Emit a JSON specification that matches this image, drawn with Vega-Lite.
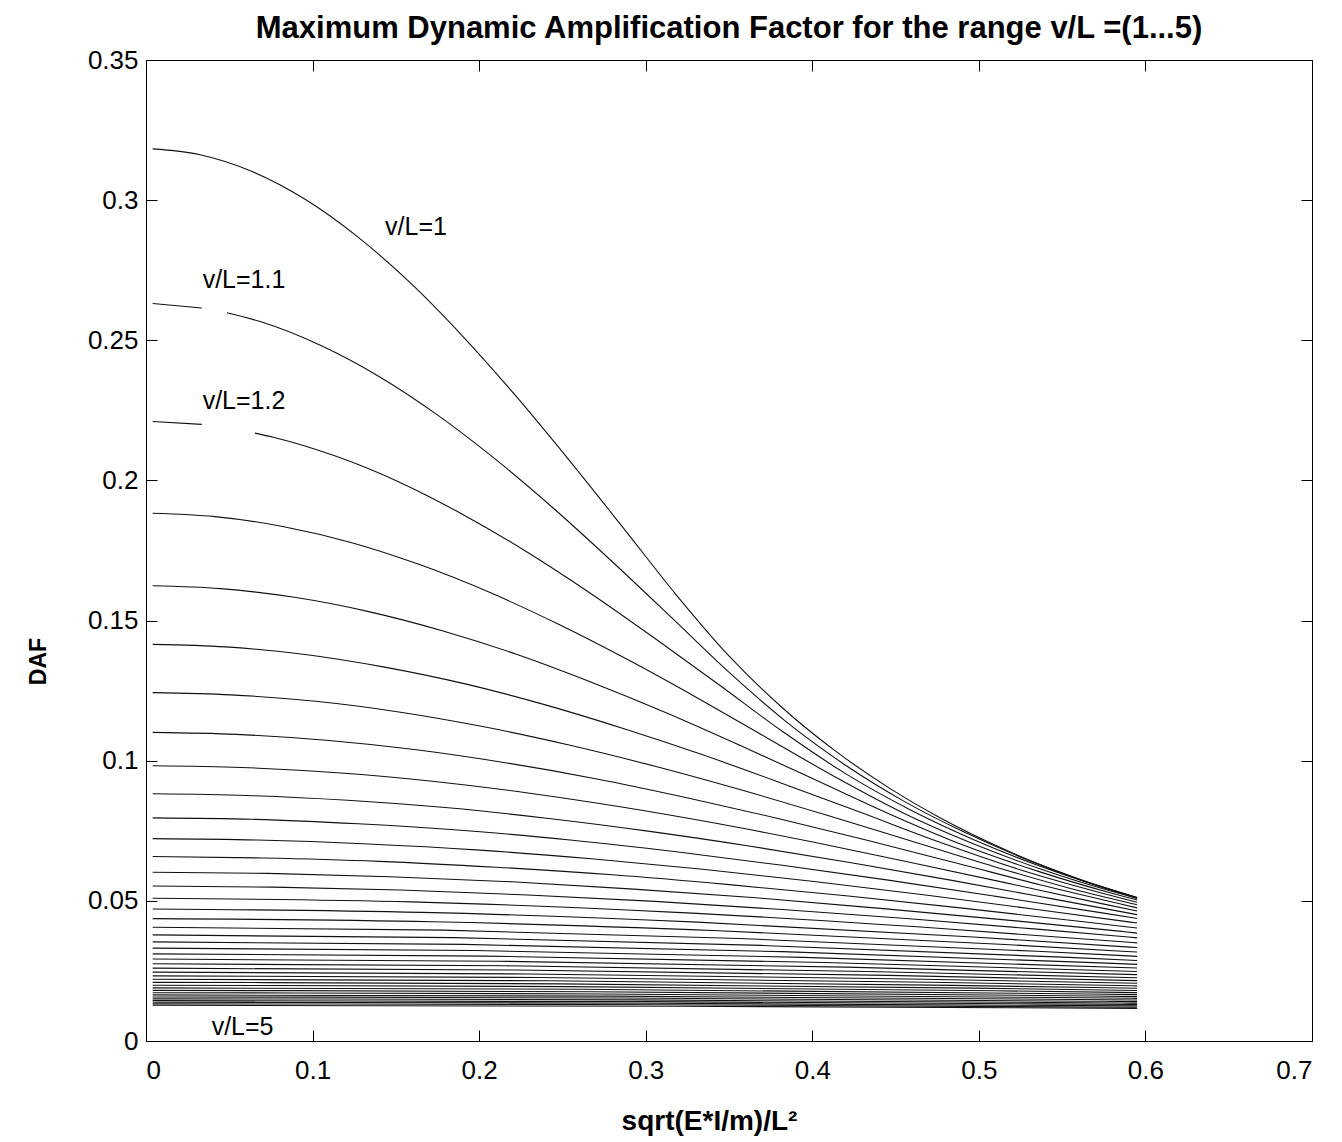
{
  "$schema": "https://vega.github.io/schema/vega-lite/v6.json",
  "width": 1166,
  "height": 981,
  "autosize": {"type": "none"},
  "padding": {"left": 146, "top": 60, "right": 30, "bottom": 101},
  "background": "white",
  "config": {
    "font": "Liberation Sans",
    "view": {"stroke": "#000", "strokeWidth": 1},
    "axis": {"grid": false, "domain": false, "tickColor": "#000", "tickSize": -11, "tickWidth": 1, "labelColor": "#000", "labelFontSize": 26, "titleColor": "#000", "titleFontWeight": "bold", "labelFont": "Liberation Sans", "titleFont": "Liberation Sans"}
  },
  "title": {"text": "Maximum Dynamic Amplification Factor for the range v/L =(1...5)", "fontSize": 31, "fontWeight": "bold", "font": "Liberation Sans", "color": "#000", "anchor": "middle", "offset": 2},
  "datasets": {
    "curves": [
      {"c":"1","x":0.004,"y":0.3183},{"c":"1","x":0.0318,"y":0.3163},{"c":"1","x":0.0637,"y":0.3102},{"c":"1","x":0.0955,"y":0.3003},{"c":"1","x":0.1273,"y":0.2868},{"c":"1","x":0.1592,"y":0.2702},{"c":"1","x":0.191,"y":0.2509},{"c":"1","x":0.2228,"y":0.2296},{"c":"1","x":0.2546,"y":0.2068},{"c":"1","x":0.2865,"y":0.1831},{"c":"1","x":0.3183,"y":0.1592},{"c":"1","x":0.3501,"y":0.1373},{"c":"1","x":0.382,"y":0.1189},{"c":"1","x":0.4138,"y":0.1035},{"c":"1","x":0.4456,"y":0.0905},{"c":"1","x":0.4775,"y":0.0794},{"c":"1","x":0.5093,"y":0.07},{"c":"1","x":0.5411,"y":0.0619},{"c":"1","x":0.573,"y":0.055},{"c":"1","x":0.595,"y":0.0508},
      {"c":"1.1a","x":0.004,"y":0.2631},{"c":"1.1a","x":0.0335,"y":0.2615},
      {"c":"1.1b","x":0.0486,"y":0.2598},{"c":"1.1b","x":0.07,"y":0.2564},{"c":"1.1b","x":0.105,"y":0.2481},{"c":"1.1b","x":0.1401,"y":0.237},{"c":"1.1b","x":0.1751,"y":0.2233},{"c":"1.1b","x":0.2101,"y":0.2074},{"c":"1.1b","x":0.2451,"y":0.1898},{"c":"1.1b","x":0.2801,"y":0.1709},{"c":"1.1b","x":0.3151,"y":0.1513},{"c":"1.1b","x":0.3501,"y":0.1315},{"c":"1.1b","x":0.3852,"y":0.1135},{"c":"1.1b","x":0.4202,"y":0.0983},{"c":"1.1b","x":0.4552,"y":0.0855},{"c":"1.1b","x":0.4902,"y":0.0748},{"c":"1.1b","x":0.5252,"y":0.0656},{"c":"1.1b","x":0.5602,"y":0.0578},{"c":"1.1b","x":0.595,"y":0.0512},
      {"c":"1.2a","x":0.004,"y":0.221},{"c":"1.2a","x":0.0335,"y":0.22},
      {"c":"1.2b","x":0.0654,"y":0.2169},{"c":"1.2b","x":0.0764,"y":0.2154},{"c":"1.2b","x":0.1146,"y":0.2085},{"c":"1.2b","x":0.1528,"y":0.1992},{"c":"1.2b","x":0.191,"y":0.1876},{"c":"1.2b","x":0.2292,"y":0.1743},{"c":"1.2b","x":0.2674,"y":0.1595},{"c":"1.2b","x":0.3056,"y":0.1436},{"c":"1.2b","x":0.3438,"y":0.1272},{"c":"1.2b","x":0.382,"y":0.1105},{"c":"1.2b","x":0.4202,"y":0.0953},{"c":"1.2b","x":0.4584,"y":0.0826},{"c":"1.2b","x":0.4966,"y":0.0719},{"c":"1.2b","x":0.5348,"y":0.0628},{"c":"1.2b","x":0.573,"y":0.0551},{"c":"1.2b","x":0.595,"y":0.0512},
      {"c":"1.3","x":0.004,"y":0.1883},{"c":"1.3","x":0.0414,"y":0.1871},{"c":"1.3","x":0.0828,"y":0.1835},{"c":"1.3","x":0.1241,"y":0.1777},{"c":"1.3","x":0.1655,"y":0.1697},{"c":"1.3","x":0.2069,"y":0.1599},{"c":"1.3","x":0.2483,"y":0.1485},{"c":"1.3","x":0.2897,"y":0.1359},{"c":"1.3","x":0.331,"y":0.1224},{"c":"1.3","x":0.3724,"y":0.1083},{"c":"1.3","x":0.4138,"y":0.0942},{"c":"1.3","x":0.4552,"y":0.0812},{"c":"1.3","x":0.4966,"y":0.0704},{"c":"1.3","x":0.5379,"y":0.0612},{"c":"1.3","x":0.5793,"y":0.0535},{"c":"1.3","x":0.595,"y":0.0509},
      {"c":"1.4","x":0.004,"y":0.1624},{"c":"1.4","x":0.0446,"y":0.1614},{"c":"1.4","x":0.0891,"y":0.1583},{"c":"1.4","x":0.1337,"y":0.1532},{"c":"1.4","x":0.1783,"y":0.1463},{"c":"1.4","x":0.2228,"y":0.1379},{"c":"1.4","x":0.2674,"y":0.128},{"c":"1.4","x":0.3119,"y":0.1172},{"c":"1.4","x":0.3565,"y":0.1055},{"c":"1.4","x":0.4011,"y":0.0934},{"c":"1.4","x":0.4456,"y":0.0812},{"c":"1.4","x":0.4902,"y":0.07},{"c":"1.4","x":0.5348,"y":0.0607},{"c":"1.4","x":0.5793,"y":0.0528},{"c":"1.4","x":0.595,"y":0.0503},
      {"c":"1.5","x":0.004,"y":0.1415},{"c":"1.5","x":0.0477,"y":0.1406},{"c":"1.5","x":0.0955,"y":0.1379},{"c":"1.5","x":0.1432,"y":0.1334},{"c":"1.5","x":0.191,"y":0.1275},{"c":"1.5","x":0.2387,"y":0.1201},{"c":"1.5","x":0.2865,"y":0.1115},{"c":"1.5","x":0.3342,"y":0.1021},{"c":"1.5","x":0.382,"y":0.0919},{"c":"1.5","x":0.4297,"y":0.0814},{"c":"1.5","x":0.4775,"y":0.0707},{"c":"1.5","x":0.5252,"y":0.061},{"c":"1.5","x":0.573,"y":0.0529},{"c":"1.5","x":0.595,"y":0.0495},
      {"c":"1.6","x":0.004,"y":0.1243},{"c":"1.6","x":0.0509,"y":0.1235},{"c":"1.6","x":0.1019,"y":0.1212},{"c":"1.6","x":0.1528,"y":0.1173},{"c":"1.6","x":0.2037,"y":0.112},{"c":"1.6","x":0.2546,"y":0.1055},{"c":"1.6","x":0.3056,"y":0.098},{"c":"1.6","x":0.3565,"y":0.0897},{"c":"1.6","x":0.4074,"y":0.0808},{"c":"1.6","x":0.4584,"y":0.0715},{"c":"1.6","x":0.5093,"y":0.0622},{"c":"1.6","x":0.5602,"y":0.0536},{"c":"1.6","x":0.595,"y":0.0486},
      {"c":"1.7","x":0.004,"y":0.1101},{"c":"1.7","x":0.0541,"y":0.1094},{"c":"1.7","x":0.1082,"y":0.1073},{"c":"1.7","x":0.1623,"y":0.1039},{"c":"1.7","x":0.2165,"y":0.0992},{"c":"1.7","x":0.2706,"y":0.0935},{"c":"1.7","x":0.3247,"y":0.0868},{"c":"1.7","x":0.3788,"y":0.0795},{"c":"1.7","x":0.4329,"y":0.0716},{"c":"1.7","x":0.487,"y":0.0634},{"c":"1.7","x":0.5411,"y":0.0551},{"c":"1.7","x":0.595,"y":0.0475},
      {"c":"1.8","x":0.004,"y":0.0982},{"c":"1.8","x":0.0573,"y":0.0976},{"c":"1.8","x":0.1146,"y":0.0957},{"c":"1.8","x":0.1719,"y":0.0927},{"c":"1.8","x":0.2292,"y":0.0885},{"c":"1.8","x":0.2865,"y":0.0834},{"c":"1.8","x":0.3438,"y":0.0775},{"c":"1.8","x":0.4011,"y":0.0709},{"c":"1.8","x":0.4584,"y":0.0638},{"c":"1.8","x":0.5157,"y":0.0565},{"c":"1.8","x":0.573,"y":0.0491},{"c":"1.8","x":0.595,"y":0.0464},
      {"c":"1.9","x":0.004,"y":0.0882},{"c":"1.9","x":0.0605,"y":0.0876},{"c":"1.9","x":0.121,"y":0.0859},{"c":"1.9","x":0.1814,"y":0.0832},{"c":"1.9","x":0.2419,"y":0.0794},{"c":"1.9","x":0.3024,"y":0.0748},{"c":"1.9","x":0.3629,"y":0.0695},{"c":"1.9","x":0.4234,"y":0.0636},{"c":"1.9","x":0.4838,"y":0.0573},{"c":"1.9","x":0.5443,"y":0.0507},{"c":"1.9","x":0.595,"y":0.0451},
      {"c":"2","x":0.004,"y":0.0796},{"c":"2","x":0.0637,"y":0.0791},{"c":"2","x":0.1273,"y":0.0775},{"c":"2","x":0.191,"y":0.0751},{"c":"2","x":0.2546,"y":0.0717},{"c":"2","x":0.3183,"y":0.0675},{"c":"2","x":0.382,"y":0.0627},{"c":"2","x":0.4456,"y":0.0574},{"c":"2","x":0.5093,"y":0.0517},{"c":"2","x":0.573,"y":0.0458},{"c":"2","x":0.595,"y":0.0437},
      {"c":"2.1","x":0.004,"y":0.0722},{"c":"2.1","x":0.0668,"y":0.0717},{"c":"2.1","x":0.1337,"y":0.0703},{"c":"2.1","x":0.2005,"y":0.0681},{"c":"2.1","x":0.2674,"y":0.065},{"c":"2.1","x":0.3342,"y":0.0613},{"c":"2.1","x":0.4011,"y":0.0569},{"c":"2.1","x":0.4679,"y":0.0521},{"c":"2.1","x":0.5348,"y":0.0469},{"c":"2.1","x":0.595,"y":0.0421},
      {"c":"2.2","x":0.004,"y":0.0658},{"c":"2.2","x":0.07,"y":0.0653},{"c":"2.2","x":0.1401,"y":0.0641},{"c":"2.2","x":0.2101,"y":0.062},{"c":"2.2","x":0.2801,"y":0.0593},{"c":"2.2","x":0.3501,"y":0.0558},{"c":"2.2","x":0.4202,"y":0.0518},{"c":"2.2","x":0.4902,"y":0.0474},{"c":"2.2","x":0.5602,"y":0.0427},{"c":"2.2","x":0.595,"y":0.0403},
      {"c":"2.3","x":0.004,"y":0.0602},{"c":"2.3","x":0.0732,"y":0.0598},{"c":"2.3","x":0.1464,"y":0.0586},{"c":"2.3","x":0.2196,"y":0.0568},{"c":"2.3","x":0.2928,"y":0.0542},{"c":"2.3","x":0.3661,"y":0.0511},{"c":"2.3","x":0.4393,"y":0.0474},{"c":"2.3","x":0.5125,"y":0.0434},{"c":"2.3","x":0.5857,"y":0.0391},{"c":"2.3","x":0.595,"y":0.0385},
      {"c":"2.4","x":0.004,"y":0.0553},{"c":"2.4","x":0.0764,"y":0.0549},{"c":"2.4","x":0.1528,"y":0.0539},{"c":"2.4","x":0.2292,"y":0.0521},{"c":"2.4","x":0.3056,"y":0.0498},{"c":"2.4","x":0.382,"y":0.0469},{"c":"2.4","x":0.4584,"y":0.0436},{"c":"2.4","x":0.5348,"y":0.0399},{"c":"2.4","x":0.595,"y":0.0368},
      {"c":"2.5","x":0.004,"y":0.05093},{"c":"2.5","x":0.1592,"y":0.04963},{"c":"2.5","x":0.3183,"y":0.04589},{"c":"2.5","x":0.4775,"y":0.04015},{"c":"2.5","x":0.595,"y":0.03502},
      {"c":"2.6","x":0.004,"y":0.04709},{"c":"2.6","x":0.1655,"y":0.04589},{"c":"2.6","x":0.331,"y":0.04242},{"c":"2.6","x":0.4966,"y":0.03712},{"c":"2.6","x":0.595,"y":0.03334},
      {"c":"2.7","x":0.004,"y":0.04366},{"c":"2.7","x":0.1719,"y":0.04255},{"c":"2.7","x":0.3438,"y":0.03934},{"c":"2.7","x":0.5157,"y":0.03442},{"c":"2.7","x":0.595,"y":0.03173},
      {"c":"2.8","x":0.004,"y":0.0406},{"c":"2.8","x":0.1783,"y":0.03956},{"c":"2.8","x":0.3565,"y":0.03658},{"c":"2.8","x":0.5348,"y":0.03201},{"c":"2.8","x":0.595,"y":0.03019},
      {"c":"2.9","x":0.004,"y":0.03785},{"c":"2.9","x":0.1846,"y":0.03688},{"c":"2.9","x":0.3692,"y":0.0341},{"c":"2.9","x":0.5538,"y":0.02984},{"c":"2.9","x":0.595,"y":0.02873},
      {"c":"3","x":0.004,"y":0.03537},{"c":"3","x":0.191,"y":0.03446},{"c":"3","x":0.382,"y":0.03187},{"c":"3","x":0.573,"y":0.02788},{"c":"3","x":0.595,"y":0.02735},
      {"c":"3.1","x":0.004,"y":0.03312},{"c":"3.1","x":0.1974,"y":0.03228},{"c":"3.1","x":0.3947,"y":0.02984},{"c":"3.1","x":0.595,"y":0.02605},
      {"c":"3.2","x":0.004,"y":0.03109},{"c":"3.2","x":0.2037,"y":0.03029},{"c":"3.2","x":0.4074,"y":0.02801},{"c":"3.2","x":0.595,"y":0.02482},
      {"c":"3.3","x":0.004,"y":0.02923},{"c":"3.3","x":0.2101,"y":0.02848},{"c":"3.3","x":0.4202,"y":0.02634},{"c":"3.3","x":0.595,"y":0.02367},
      {"c":"3.4","x":0.004,"y":0.02754},{"c":"3.4","x":0.2165,"y":0.02683},{"c":"3.4","x":0.4329,"y":0.02481},{"c":"3.4","x":0.595,"y":0.02257},
      {"c":"3.5","x":0.004,"y":0.02599},{"c":"3.5","x":0.2228,"y":0.02532},{"c":"3.5","x":0.4456,"y":0.02341},{"c":"3.5","x":0.595,"y":0.02155},
      {"c":"3.6","x":0.004,"y":0.02456},{"c":"3.6","x":0.2292,"y":0.02393},{"c":"3.6","x":0.4584,"y":0.02213},{"c":"3.6","x":0.595,"y":0.02058},
      {"c":"3.7","x":0.004,"y":0.02325},{"c":"3.7","x":0.2355,"y":0.02266},{"c":"3.7","x":0.4711,"y":0.02095},{"c":"3.7","x":0.595,"y":0.01967},
      {"c":"3.8","x":0.004,"y":0.02204},{"c":"3.8","x":0.2419,"y":0.02148},{"c":"3.8","x":0.4838,"y":0.01986},{"c":"3.8","x":0.595,"y":0.01881},
      {"c":"3.9","x":0.004,"y":0.02093},{"c":"3.9","x":0.2483,"y":0.02039},{"c":"3.9","x":0.4966,"y":0.01886},{"c":"3.9","x":0.595,"y":0.01801},
      {"c":"4","x":0.004,"y":0.01989},{"c":"4","x":0.2546,"y":0.01939},{"c":"4","x":0.5093,"y":0.01792},{"c":"4","x":0.595,"y":0.01725},
      {"c":"4.1","x":0.004,"y":0.01894},{"c":"4.1","x":0.261,"y":0.01845},{"c":"4.1","x":0.522,"y":0.01706},{"c":"4.1","x":0.595,"y":0.01653},
      {"c":"4.2","x":0.004,"y":0.01805},{"c":"4.2","x":0.2674,"y":0.01758},{"c":"4.2","x":0.5348,"y":0.01626},{"c":"4.2","x":0.595,"y":0.01585},
      {"c":"4.3","x":0.004,"y":0.01722},{"c":"4.3","x":0.2737,"y":0.01678},{"c":"4.3","x":0.5475,"y":0.01551},{"c":"4.3","x":0.595,"y":0.01522},
      {"c":"4.4","x":0.004,"y":0.01644},{"c":"4.4","x":0.2801,"y":0.01602},{"c":"4.4","x":0.5602,"y":0.01481},{"c":"4.4","x":0.595,"y":0.01462},
      {"c":"4.5","x":0.004,"y":0.01572},{"c":"4.5","x":0.2865,"y":0.01532},{"c":"4.5","x":0.573,"y":0.01416},{"c":"4.5","x":0.595,"y":0.01405},
      {"c":"4.6","x":0.004,"y":0.01504},{"c":"4.6","x":0.2928,"y":0.01466},{"c":"4.6","x":0.5857,"y":0.01355},{"c":"4.6","x":0.595,"y":0.01351},
      {"c":"4.7","x":0.004,"y":0.01441},{"c":"4.7","x":0.2992,"y":0.01404},{"c":"4.7","x":0.595,"y":0.013},
      {"c":"4.8","x":0.004,"y":0.01382},{"c":"4.8","x":0.3056,"y":0.01346},{"c":"4.8","x":0.595,"y":0.01252},
      {"c":"4.9","x":0.004,"y":0.01326},{"c":"4.9","x":0.3119,"y":0.01292},{"c":"4.9","x":0.595,"y":0.01206},
      {"c":"5","x":0.004,"y":0.01273},{"c":"5","x":0.3183,"y":0.01241},{"c":"5","x":0.595,"y":0.01163}
    ],
    "labels": [
      {"t":"v/L=1","x":0.1435,"y":0.2875},
      {"t":"v/L=1.1","x":0.034,"y":0.2685},
      {"t":"v/L=1.2","x":0.034,"y":0.2256},
      {"t":"v/L=5","x":0.0394,"y":0.0021}
    ]
  },
  "resolve": {"axis": {"x": "independent", "y": "independent"}},
  "layer": [
    {
      "data": {"name": "curves"},
      "mark": {"type": "line", "color": "#111", "strokeWidth": 1.1, "interpolate": "monotone"},
      "encoding": {
        "x": {"field": "x", "type": "quantitative", "scale": {"domain": [0, 0.7], "nice": false, "zero": false},
              "axis": {"orient": "bottom", "values": [0, 0.1, 0.2, 0.3, 0.4, 0.5, 0.6, 0.7], "format": "~g", "labelPadding": 27, "title": "sqrt(E*I/m)/L²", "titleFontSize": 28, "titleX": 563, "titleY": 88, "titleAlign": "center", "titleBaseline": "alphabetic"}},
        "y": {"field": "y", "type": "quantitative", "scale": {"domain": [0, 0.35], "nice": false, "zero": false},
              "axis": {"orient": "left", "values": [0, 0.05, 0.1, 0.15, 0.2, 0.25, 0.3, 0.35], "format": "~g", "labelPadding": 19, "title": "DAF", "titleFontSize": 23, "titleX": -108, "titleY": 601, "titleAngle": 270, "titleAlign": "center", "titleBaseline": "middle"}},
        "detail": {"field": "c", "type": "nominal"}
      }
    },
    {
      "data": {"name": "labels"},
      "mark": {"type": "text", "align": "left", "baseline": "alphabetic", "fontSize": 25, "color": "#000", "font": "Liberation Sans"},
      "encoding": {
        "x": {"field": "x", "type": "quantitative", "scale": {"domain": [0, 0.7], "nice": false, "zero": false},
              "axis": {"orient": "top", "values": [0, 0.1, 0.2, 0.3, 0.4, 0.5, 0.6, 0.7], "labels": false, "title": null}},
        "y": {"field": "y", "type": "quantitative", "scale": {"domain": [0, 0.35], "nice": false, "zero": false},
              "axis": {"orient": "right", "values": [0, 0.05, 0.1, 0.15, 0.2, 0.25, 0.3, 0.35], "labels": false, "title": null}},
        "text": {"field": "t", "type": "nominal"}
      }
    }
  ]
}
